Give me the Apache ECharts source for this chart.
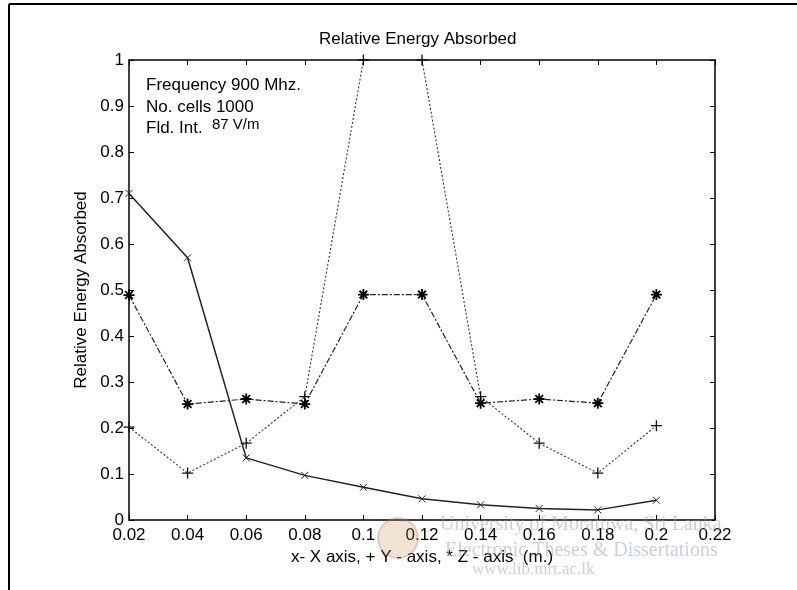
<!DOCTYPE html>
<html>
<head>
<meta charset="utf-8">
<script src="https://cdn.jsdelivr.net/npm/echarts@6/dist/echarts.min.js"></script>
<style>
html,body{margin:0;padding:0;background:#fff;}
#chart{width:797px;height:590px;}
</style>
</head>
<body>
<div id="chart"></div>
<script>
// ---- data ----
const xPositions = [0.02, 0.04, 0.06, 0.08, 0.10, 0.12, 0.14, 0.16, 0.18, 0.20];
const xAxisSeries = [0.71, 0.57, 0.135, 0.097, 0.071, 0.046, 0.033, 0.025, 0.022, 0.043];
const yAxisSeries = [0.202, 0.102, 0.167, 0.268, 1.0, 1.0, 0.268, 0.167, 0.102, 0.205];
const zAxisSeries = [0.489, 0.252, 0.263, 0.252, 0.49, 0.49, 0.254, 0.263, 0.254, 0.49];
const titleText = 'Relative Energy Absorbed';
const yAxisName = 'Relative Energy Absorbed';
const xAxisName = 'x- X axis, + Y - axis, * Z - axis  (m.)';
const infoLines = ['Frequency 900 Mhz.', 'No. cells 1000', 'Fld. Int.'];
const infoSuper = '87 V/m';
const watermark = ['University of Moratuwa, Sri Lanka.', 'Electronic Theses & Dissertations', 'www.lib.mrt.ac.lk'];

const pairs = arr => xPositions.map((x, i) => [x, arr[i]]);
const FONT = 'Liberation Sans, Arial, Helvetica, sans-serif';
const SERIF = 'Liberation Serif, Times New Roman, serif';
const fmt = v => String(Math.round(v * 100) / 100);

const symX = 'path://M0,0L10,10M10,0L0,10';
const symPlus = 'path://M5,0L5,10M0,5L10,5';
const symStar = 'path://M5,0L5,10M0,5L10,5M1.5,1.5L8.5,8.5M8.5,1.5L1.5,8.5';

const chart = echarts.init(document.getElementById('chart'), null, {renderer: 'canvas'});

const tickStyle = {show: true, inside: true, length: 5, lineStyle: {color: '#000', width: 1}};
const wmFill = 'rgba(150,160,190,0.5)';

chart.setOption({
  animation: false,
  backgroundColor: '#fff',
  graphic: [
    {type: 'line', shape: {x1: 9, y1: 4, x2: 797, y2: 4}, style: {stroke: '#000', lineWidth: 2}},
    {type: 'line', shape: {x1: 9, y1: 4, x2: 9, y2: 590}, style: {stroke: '#000', lineWidth: 2}},
    {type: 'text', left: 319, top: 31, style: {text: titleText, font: '17px ' + FONT, fill: '#000'}},
    {type: 'text', left: 146, top: 77, style: {text: infoLines[0], font: '17px ' + FONT, fill: '#000'}},
    {type: 'text', left: 146, top: 99, style: {text: infoLines[1], font: '17px ' + FONT, fill: '#000'}},
    {type: 'text', left: 146, top: 120, style: {text: infoLines[2], font: '17px ' + FONT, fill: '#000'}},
    {type: 'text', left: 212, top: 117, style: {text: infoSuper, font: '15px ' + FONT, fill: '#000'}},
    {type: 'circle', shape: {cx: 398, cy: 538, r: 20}, style: {fill: 'rgba(200,140,90,0.25)', stroke: 'rgba(170,120,80,0.3)', lineWidth: 2}, z: 10},
    {type: 'text', left: 440, top: 515, z: 10, style: {text: watermark[0], font: '20px ' + SERIF, fill: wmFill}},
    {type: 'text', left: 445, top: 541, z: 10, style: {text: watermark[1], font: '20px ' + SERIF, fill: wmFill}},
    {type: 'text', left: 472, top: 561, z: 10, style: {text: watermark[2], font: '17px ' + SERIF, fill: wmFill}}
  ],
  grid: {left: 129, right: 82, top: 60, bottom: 70, show: false},
  xAxis: [{
    type: 'value', min: 0.02, max: 0.22, interval: 0.02,
    axisLine: {show: true, onZero: false, lineStyle: {color: '#000', width: 1.5}},
    axisTick: tickStyle,
    splitLine: {show: false},
    axisLabel: {formatter: fmt, margin: 7, fontFamily: FONT, fontSize: 17, color: '#000'},
    name: xAxisName, nameLocation: 'middle', nameGap: 23,
    nameTextStyle: {fontFamily: FONT, fontSize: 17, color: '#000'}
  }, {
    type: 'value', position: 'top', min: 0.02, max: 0.22, interval: 0.02,
    axisLine: {show: true, onZero: false, lineStyle: {color: '#000', width: 1.5}},
    axisTick: tickStyle, axisLabel: {show: false}, splitLine: {show: false}
  }],
  yAxis: [{
    type: 'value', min: 0, max: 1, interval: 0.1,
    axisLine: {show: true, onZero: false, lineStyle: {color: '#000', width: 1.5}},
    axisTick: tickStyle,
    splitLine: {show: false},
    axisLabel: {formatter: fmt, margin: 5, fontFamily: FONT, fontSize: 17, color: '#000'},
    name: yAxisName, nameLocation: 'middle', nameGap: 39, nameRotate: 90,
    nameTextStyle: {fontFamily: FONT, fontSize: 17, color: '#000'}
  }, {
    type: 'value', position: 'right', min: 0, max: 1, interval: 0.1,
    axisLine: {show: true, onZero: false, lineStyle: {color: '#000', width: 1.5}},
    axisTick: tickStyle, axisLabel: {show: false}, splitLine: {show: false}
  }],
  series: [{
    name: 'X', type: 'line', data: pairs(xAxisSeries),
    symbol: symX, symbolSize: 7, showSymbol: true,
    lineStyle: {color: '#222', width: 1.5, type: 'solid'},
    itemStyle: {color: '#222', borderColor: '#222', borderWidth: 1},
    z: 3
  }, {
    name: 'Y', type: 'line', data: pairs(yAxisSeries),
    symbol: symPlus, symbolSize: 11,
    lineStyle: {color: '#333', width: 1.1, type: [2, 2]},
    itemStyle: {color: '#111', borderColor: '#111', borderWidth: 1.3},
    z: 2
  }, {
    name: 'Z', type: 'line', data: pairs(zAxisSeries),
    symbol: symStar, symbolSize: 11,
    lineStyle: {color: '#222', width: 1.2, type: [6, 2, 2, 2]},
    itemStyle: {color: '#000', borderColor: '#000', borderWidth: 1.8},
    z: 4
  }]
});
</script>
</body>
</html>
